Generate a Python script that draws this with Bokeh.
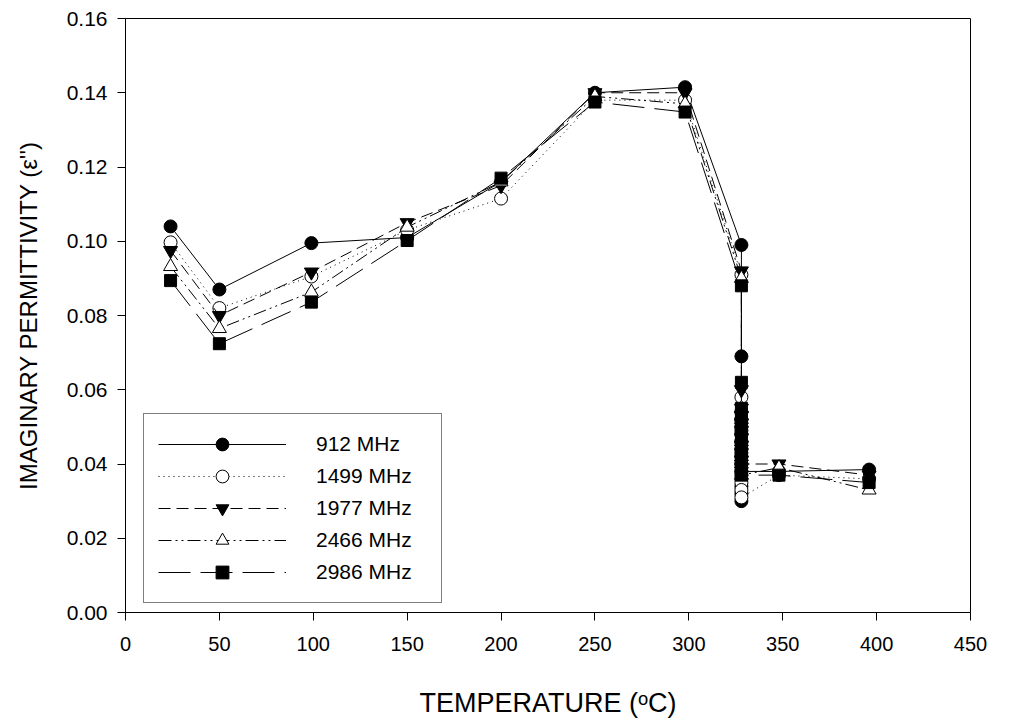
from bokeh.plotting import figure
from bokeh.models import Range1d, FixedTicker, NumeralTickFormatter, Legend, LegendItem
from bokeh.embed import file_html
from bokeh.resources import INLINE

# ---- data ----
temps_ramp = [24, 50, 99, 150, 200, 250, 298]   # heating points
temp_hold = 328                                   # many readings taken at this temperature
temps_end = [348, 396]

ramp_912 = [0.104, 0.087, 0.0995, 0.101, 0.116, 0.140, 0.1415]
hold_912 = [0.099, 0.069, 0.054, 0.052, 0.050, 0.048, 0.046, 0.044, 0.042, 0.040, 0.038, 0.036, 0.034, 0.032, 0.030, 0.038]
end_912 = [0.038, 0.0385]

ramp_1499 = [0.0997, 0.082, 0.0905, 0.103, 0.1115, 0.138, 0.138]
hold_1499 = [0.091, 0.058, 0.052, 0.049, 0.046, 0.043, 0.040, 0.037, 0.035, 0.033, 0.031]
end_1499 = [0.037, 0.036]

ramp_1977 = [0.0975, 0.080, 0.0917, 0.105, 0.115, 0.140, 0.140]
hold_1977 = [0.092, 0.060, 0.055, 0.053, 0.051, 0.049, 0.047, 0.045, 0.043, 0.041, 0.040]
end_1977 = [0.040, 0.037]

ramp_2466 = [0.0932, 0.0765, 0.0863, 0.1038, 0.116, 0.139, 0.137]
hold_2466 = [0.090, 0.055, 0.052, 0.049, 0.046, 0.043, 0.040, 0.037]
end_2466 = [0.039, 0.033]

ramp_2986 = [0.0894, 0.0724, 0.0836, 0.1002, 0.117, 0.1375, 0.1348]
hold_2986 = [0.088, 0.062, 0.055, 0.053, 0.051, 0.049, 0.047, 0.045, 0.043, 0.041, 0.039, 0.037]
end_2986 = [0.037, 0.035]

series_labels = ["912 MHz", "1499 MHz", "1977 MHz", "2466 MHz", "2986 MHz"]
x_ticks = [0, 50, 100, 150, 200, 250, 300, 350, 400, 450]
y_ticks = [0.00, 0.02, 0.04, 0.06, 0.08, 0.10, 0.12, 0.14, 0.16]


def build(ramp, hold, end):
    xs = temps_ramp + [temp_hold] * len(hold) + temps_end
    ys = ramp + hold + end
    return xs, ys


FONT = "Liberation Sans"

p = figure(width=1009, height=722, output_backend="svg", toolbar_location=None,
           x_range=Range1d(0, 450), y_range=Range1d(0, 0.16),
           min_border_left=125, min_border_right=39, min_border_top=18, min_border_bottom=110)

p.background_fill_color = "white"
p.border_fill_color = "white"
p.outline_line_color = "black"
p.outline_line_width = 1
p.grid.visible = False

for ax in (p.xaxis[0], p.yaxis[0]):
    ax.axis_line_color = "black"
    ax.major_tick_line_color = "black"
    ax.major_tick_out = 8
    ax.major_tick_in = 0
    ax.minor_tick_line_color = None
    ax.major_label_text_font = FONT
    ax.major_label_text_color = "black"
    ax.axis_label_text_font = FONT
    ax.axis_label_text_font_style = "normal"
    ax.axis_label_text_color = "black"

p.xaxis.ticker = FixedTicker(ticks=x_ticks)
p.yaxis.ticker = FixedTicker(ticks=y_ticks)
p.yaxis.formatter = NumeralTickFormatter(format="0.00")
p.xaxis.major_label_text_font_size = "20px"
p.yaxis.major_label_text_font_size = "21px"
p.xaxis.major_label_standoff = 16
p.yaxis.major_label_standoff = 10

p.xaxis.axis_label = "TEMPERATURE (ᵒC)"
p.xaxis.axis_label_text_font_size = "27px"
p.xaxis.axis_label_standoff = 34
p.yaxis.axis_label = "IMAGINARY PERMITTIVITY (ε'')"
p.yaxis.axis_label_text_font_size = "24px"
p.yaxis.axis_label_standoff = 22

styles = [
    (build(ramp_912, hold_912, end_912), "solid", "circle", "black", 13),
    (build(ramp_1499, hold_1499, end_1499), "1 4", "circle", "white", 13),
    (build(ramp_1977, hold_1977, end_1977), "12 6", "inverted_triangle", "black", 14),
    (build(ramp_2466, hold_2466, end_2466), "13 4 2 4 2 4", "triangle", "white", 14),
    (build(ramp_2986, hold_2986, end_2986), "32 10", "square", "black", 12),
]

items = []
for ((xs, ys), dash, marker, fill, size), lab in zip(styles, series_labels):
    r1 = p.line(xs, ys, line_color="black", line_width=1, line_dash=dash)
    r2 = p.scatter(xs, ys, marker=marker, size=size, fill_color=fill, line_color="black", line_width=1)
    items.append(LegendItem(label=lab, renderers=[r1, r2]))

legend = Legend(items=items, location=(18, 9))
legend.glyph_width = 128
legend.glyph_height = 32
legend.label_height = 32
legend.label_width = 111
legend.label_standoff = 30
legend.spacing = 0
legend.padding = 14
legend.margin = 0
legend.border_line_color = "black"
legend.border_line_width = 1
legend.background_fill_color = "white"
legend.background_fill_alpha = 1
legend.label_text_font = FONT
legend.label_text_font_size = "21px"
legend.label_text_color = "black"
p.add_layout(legend, "center")

open("out.html", "w").write(file_html(p, INLINE))
